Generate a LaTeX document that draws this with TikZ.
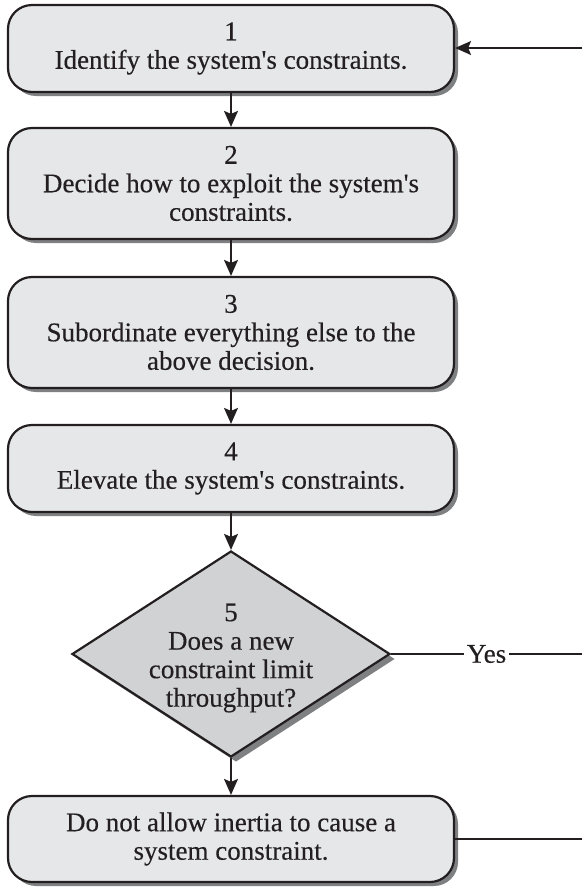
\documentclass[tikz,border=0pt]{standalone}
\usepackage{fontspec}
\setmainfont{Liberation Serif}[FakeBold=0.35]
\usetikzlibrary{shapes.geometric,shadows,arrows.meta}

\definecolor{boxfill}{HTML}{E6E7E9}
\definecolor{decfill}{HTML}{D1D2D4}
\definecolor{shadowgray}{HTML}{7F8082}
\definecolor{inkline}{HTML}{231F20}

\newcommand{\apos}{\textquotesingle}

\tikzset{
  stepbox/.style={draw=inkline, line width=2.2pt, fill=boxfill,
    rounded corners=24pt, minimum width=446pt, align=center,
    inner sep=0pt, text=inkline,
    drop shadow={shadow xshift=4pt, shadow yshift=-4pt,
                 fill=shadowgray, opacity=1}},
  decision/.style={diamond, draw=inkline, line width=2.2pt, fill=decfill,
    minimum width=318pt, minimum height=206pt, inner sep=0pt,
    drop shadow={shadow xshift=5pt, shadow yshift=-5pt,
                 fill=shadowgray, opacity=1}},
  txt/.style={align=center, inner sep=0pt, text=inkline},
  flow/.style={draw=inkline, line width=1.6pt,
    -{Stealth[length=16pt, width=14pt, inset=3pt]}},
  plain/.style={draw=inkline, line width=1.6pt},
}

\begin{document}
\begin{tikzpicture}[x=1pt, y=-1pt,
  every node/.style={font=\fontsize{27}{28.5}\selectfont}]
  \useasboundingbox (0,0) rectangle (582,887);

  % the five steps
  \node[stepbox, minimum height=87pt]  (s1) at (231,48.5)
    {1\\Identify the system\apos s constraints.};
  \node[stepbox, minimum height=111pt] (s2) at (231,183.5)
    {2\\Decide how to exploit the system\apos s\\constraints.};
  \node[stepbox, minimum height=111pt] (s3) at (231,332.5)
    {3\\Subordinate everything else to the\\above decision.};
  \node[stepbox, minimum height=87pt]  (s4) at (231,468.5)
    {4\\Elevate the system\apos s constraints.};
  \node[decision] (d5) at (231,654) {};
  \node[txt] (d5t) at (231,658)
    {5\\Does a new\\constraint limit\\throughput?};
  \node[stepbox, minimum height=86pt]  (s6) at (231,839)
    {Do not allow inertia to cause a\\system constraint.};

  % loose ends of the feedback loop at the right margin
  \coordinate (loopin)  at (582,48);
  \coordinate (loopyes) at (582,654);
  \coordinate (loopout) at (582,839);

  % main flow
  \draw[flow] (s1) -- (s2);
  \draw[flow] (s2) -- (s3);
  \draw[flow] (s3) -- (s4);
  \draw[flow] (s4) -- (d5);
  \draw[flow] (d5) -- (s6);

  % feedback lines
  \draw[flow] (loopin) -- (s1.east |- loopin);
  \draw[plain] (d5.east) -- node[fill=white, inner sep=3pt, text=inkline] (yes) {Yes} (loopyes);
  \draw[plain] (s6.east |- loopout) -- (loopout);
\end{tikzpicture}
\end{document}
